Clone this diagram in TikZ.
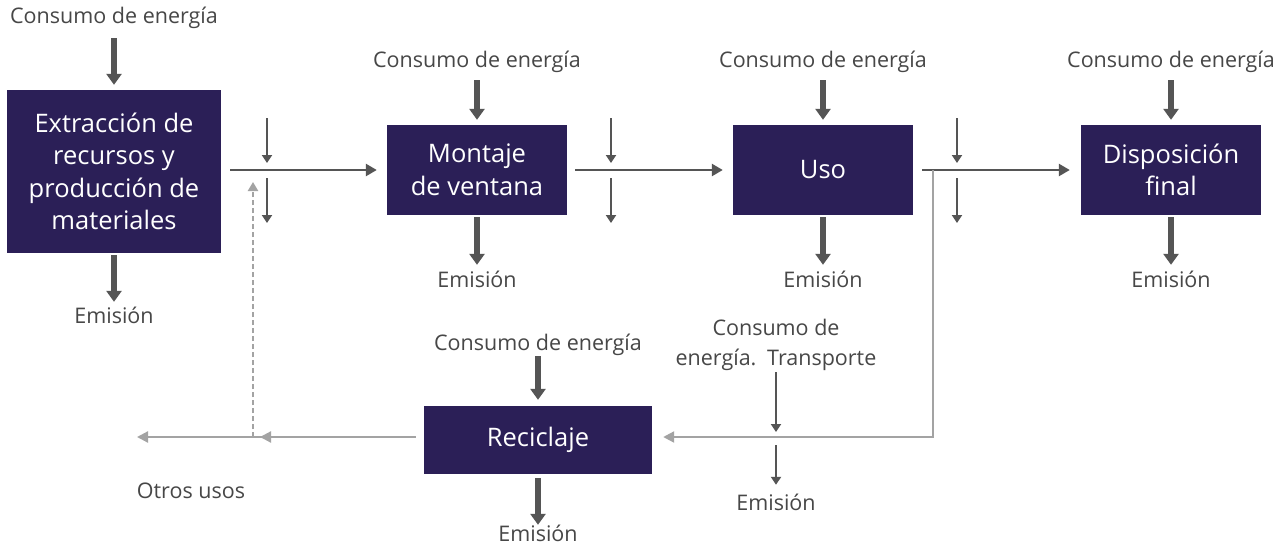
\documentclass[tikz,border=0pt]{standalone}
\usepackage{fontspec}
\setmainfont{Open Sans}
\usetikzlibrary{arrows.meta,calc}
\definecolor{boxc}{HTML}{2B1F57}
\definecolor{arrc}{HTML}{555555}
\definecolor{txtc}{HTML}{474747}
\definecolor{lgray}{HTML}{A3A3A3}
\begin{document}
\begin{tikzpicture}[x=1pt,y=-1pt,
  procbox/.style={fill=boxc, text=white, font=\fontsize{25.5}{32.5}\selectfont,
    align=center, inner sep=0pt},
  lbl/.style={text=txtc, font=\fontsize{21.5}{30}\selectfont, inner sep=0pt,
    text height=15pt, text depth=5pt, align=center},
  bigarr/.style={draw=arrc, line width=5.5pt, -{Triangle[width=15pt,length=11pt]}},
  smallarr/.style={draw=arrc, line width=2.5pt, -{Triangle[width=10pt,length=8pt]}},
  flowarr/.style={draw=arrc, line width=2.5pt, -{Triangle[width=12pt,length=11pt]}},
  grayarr/.style={draw=lgray, line width=2.2pt, -{Triangle[width=11pt,length=11pt]}},
  dasharr/.style={draw=lgray, line width=2.2pt, dash pattern=on 5pt off 3pt,
    -{Triangle[width=10pt,length=9pt]}}
]
\useasboundingbox (0,0) rectangle (1279,549);
\fill[white] (0,0) rectangle (1279,549);

% process boxes
\node[procbox, minimum width=214pt, minimum height=163pt] (b1) at (114,171.5)
  {Extracción de\\recursos y\\producción de\\materiales};
\node[procbox, minimum width=180pt, minimum height=90pt] (b2) at (477,170)
  {Montaje\\de ventana};
\node[procbox, minimum width=180pt, minimum height=90pt] (b3) at (823,170) {Uso};
\node[procbox, minimum width=180pt, minimum height=90pt] (b4) at (1171,170)
  {Disposición\\final};
\node[procbox, minimum width=228pt, minimum height=68pt] (b5) at (538,440) {Reciclaje};

% energy labels
\node[lbl] (c1) at (114,18) {Consumo de energía};
\node[lbl] (c2) at (477,62) {Consumo de energía};
\node[lbl] (c3) at (823,62) {Consumo de energía};
\node[lbl] (c4) at (1171,62) {Consumo de energía};
\node[lbl] (c5) at (538,345) {Consumo de energía};
\node[lbl] (t1) at (776,360) {Consumo de\\energía.\hspace{0.5em}Transporte};

% emission labels
\node[lbl] (e1) at (114,318) {Emisión};
\node[lbl] (e2) at (477,282) {Emisión};
\node[lbl] (e3) at (823,282) {Emisión};
\node[lbl] (e4) at (1171,282) {Emisión};
\node[lbl] (e5) at (538,536) {Emisión};
\node[lbl] (e6) at (776,505) {Emisión};
\node[lbl] (ou) at (191,493) {Otros usos};

% energy input arrows
\draw[bigarr, shorten <=10pt, shorten >=5pt] (c1) -- (b1);
\draw[bigarr, shorten <=8pt, shorten >=5pt] (c2) -- (b2);
\draw[bigarr, shorten <=8pt, shorten >=5pt] (c3) -- (b3);
\draw[bigarr, shorten <=8pt, shorten >=5pt] (c4) -- (b4);
\draw[bigarr, shorten <=1pt, shorten >=6pt] (c5) -- (b5);

% emission arrows
\draw[bigarr, shorten <=2pt, shorten >=6pt] (b1) -- (e1);
\draw[bigarr, shorten <=2pt, shorten >=7pt] (b2) -- (e2);
\draw[bigarr, shorten <=2pt, shorten >=7pt] (b3) -- (e3);
\draw[bigarr, shorten <=2pt, shorten >=7pt] (b4) -- (e4);
\draw[bigarr, shorten <=4pt, shorten >=1pt] (b5) -- (e5);

% main flow
\draw[flowarr, shorten <=9pt, shorten >=10pt] (b1.east |- b2) -- (b2);
\draw[flowarr, shorten <=8pt, shorten >=10pt] (b2) -- (b3);
\draw[flowarr, shorten <=9pt, shorten >=11pt] (b3) -- (b4);

% junction coordinates
\coordinate (j1) at (267,170);
\coordinate (j2) at (611,170);
\coordinate (j3) at (957,170);
\coordinate (r1) at (933,170);
\coordinate (j4) at (776,437);
\coordinate (d1) at (253,437);
\coordinate (o1) at (137,437);

% small transport arrows at junctions
\foreach \j in {j1,j2,j3}{
  \draw[smallarr] ($(\j)+(0,-52)$) -- ($(\j)+(0,-7)$);
  \draw[smallarr] ($(\j)+(0,8)$) -- ($(\j)+(0,53)$);
}

% return to recycling
\draw[grayarr, shorten >=11pt] (r1) |- ([yshift=3pt]b5.east);
\draw[smallarr, shorten <=2pt] (t1) -- ($(j4)+(0,-5)$);
\draw[smallarr, shorten >=10pt] ($(j4)+(0,8)$) -- (e6);

% recycling outputs
\draw[grayarr, shorten <=8pt] ([yshift=3pt]b5.west) -- (o1);
\draw[grayarr, shorten <=8pt, shorten >=7pt] ([yshift=3pt]b5.west) -- (d1);
\draw[dasharr, shorten >=12pt] (d1) -- (d1 |- j1);
\end{tikzpicture}
\end{document}
